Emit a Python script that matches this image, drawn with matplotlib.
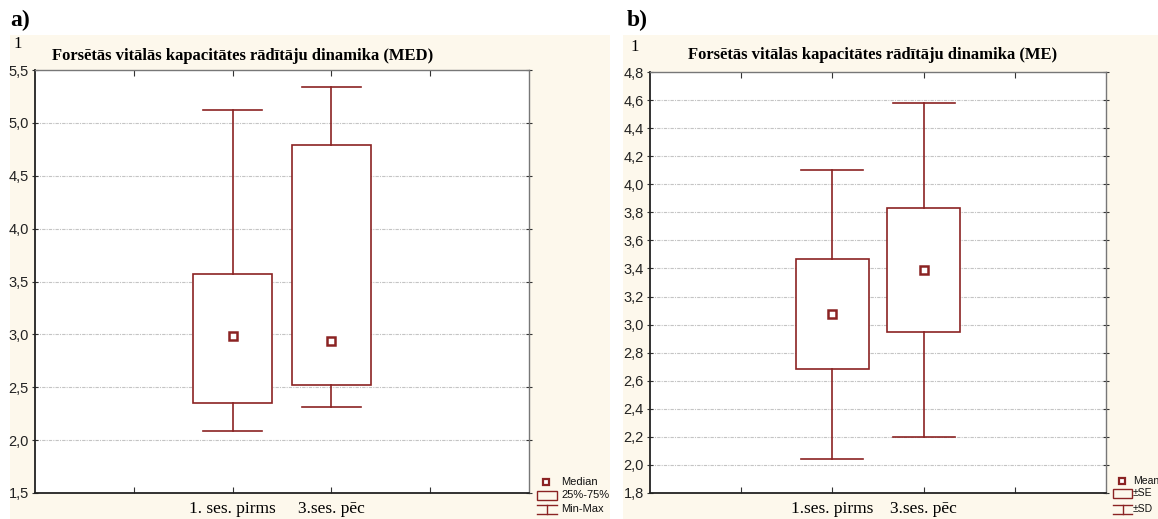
import matplotlib.pyplot as plt
from matplotlib.patches import Rectangle
from matplotlib.lines import Line2D

W, H = 1158, 519  # размер картинки в пикселях
DPI = 100

# Данные: группы и значения
groups_a = ['1. ses. pirms', '3.ses. pēc']
groups_b = ['1.ses. pirms', '3.ses. pēc']
positions = [2, 3]

# a) медиана, квартили, мин-макс
med_a = [2.98, 2.94]
q1_a = [2.35, 2.52]
q3_a = [3.57, 4.79]
min_a = [2.09, 2.31]
max_a = [5.12, 5.34]

# b) среднее, SE, SD
mean_b = [3.075, 3.39]
se_b = [0.39, 0.44]
sd_b = [1.03, 1.19]

yticks_a = [1.5, 2.0, 2.5, 3.0, 3.5, 4.0, 4.5, 5.0, 5.5]
yticks_b = [1.8, 2.0, 2.2, 2.4, 2.6, 2.8, 3.0, 3.2, 3.4, 3.6, 3.8, 4.0, 4.2, 4.4, 4.6, 4.8]

DARKRED = '#8b2323'
CREAM = '#fdf8ec'
SERIF = 'Liberation Serif'
SANS = ['Liberation Sans Narrow', 'Liberation Sans', 'DejaVu Sans']


def px(x, y):
    # пиксели -> координаты фигуры
    return x / W, 1 - y / H


def box_rect(l, t, r, b):
    return [l / W, 1 - b / H, (r - l) / W, (b - t) / H]


fig = plt.figure(figsize=(W / DPI, H / DPI), dpi=DPI)
fig.patch.set_facecolor('white')

# Кремовый фон панелей
for (l, t, r, b) in [(10, 35, 610, 519), (623, 35, 1158, 519)]:
    fig.add_artist(Rectangle(px(l, b), (r - l) / W, (b - t) / H,
                             transform=fig.transFigure, facecolor=CREAM,
                             edgecolor='none', zorder=-10))


def draw_box(ax, x, lo, hi, center, wlo, whi, bw, cw):
    ax.add_patch(Rectangle((x - bw / 2, lo), bw, hi - lo, facecolor='white',
                           edgecolor=DARKRED, lw=1.2, zorder=3))
    ax.plot([x, x], [hi, whi], color=DARKRED, lw=1.2, zorder=3)
    ax.plot([x, x], [lo, wlo], color=DARKRED, lw=1.2, zorder=3)
    ax.plot([x - cw / 2, x + cw / 2], [whi, whi], color=DARKRED, lw=1.2, zorder=3)
    ax.plot([x - cw / 2, x + cw / 2], [wlo, wlo], color=DARKRED, lw=1.2, zorder=3)
    ax.plot([x], [center], marker='s', ms=5.5, mfc='white', mec=DARKRED,
            mew=1.8, zorder=4)


def setup_axes(ax, yticks, labels, ylim):
    ax.set_xlim(0, 5)
    ax.set_ylim(*ylim)
    ax.set_yticks(yticks)
    ax.set_yticklabels([('%.1f' % v).replace('.', ',') for v in yticks],
                       family=SANS, fontsize=10.5, color='#222222')
    ax.set_xticks([1, 2, 3, 4])
    ax.set_xticklabels(['', labels[0], labels[1], ''], family=SERIF,
                       fontsize=12.5)
    ax.tick_params(axis='x', direction='in', length=4, top=True, pad=6,
                   color='#333333')
    ax.tick_params(axis='y', direction='inout', length=5, right=True,
                   color='#333333', pad=2)
    for v in yticks[1:-1]:
        ax.axhline(v, color='#c4c4c4', lw=0.8, ls=(0, (3, 1, 1, 1)), zorder=1)
    for s in ['left', 'bottom']:
        ax.spines[s].set_color('#222222')
        ax.spines[s].set_linewidth(1.3)
    for s in ['top', 'right']:
        ax.spines[s].set_color('#777777')
        ax.spines[s].set_linewidth(1.0)


# ---------- a) ----------
ax1 = fig.add_axes(box_rect(35, 70, 529, 493))
setup_axes(ax1, yticks_a, groups_a, (1.5, 5.5))
for i, x in enumerate(positions):
    draw_box(ax1, x, q1_a[i], q3_a[i], med_a[i], min_a[i], max_a[i], 0.8, 0.6)

# ---------- b) ----------
ax2 = fig.add_axes(box_rect(650, 72, 1106, 493))
setup_axes(ax2, yticks_b, groups_b, (1.8, 4.8))
for i, x in enumerate(positions):
    m = mean_b[i]
    draw_box(ax2, x, m - se_b[i], m + se_b[i], m, m - sd_b[i], m + sd_b[i],
             0.8, 0.68)

# Заголовки и подписи
fig.text(*px(52, 56), 'Forsētās vitālās kapacitātes rādītāju dinamika (MED)',
         family=SERIF, fontweight='bold', fontsize=12, va='center', ha='left')
fig.text(*px(688, 55), 'Forsētās vitālās kapacitātes rādītāju dinamika (ME)',
         family=SERIF, fontweight='bold', fontsize=12, va='center', ha='left')
fig.text(*px(10, 20), 'a)', family=SERIF, fontweight='bold', fontsize=17,
         va='center', ha='left')
fig.text(*px(627, 20), 'b)', family=SERIF, fontweight='bold', fontsize=17,
         va='center', ha='left')
fig.text(*px(13, 44), '1', family=SERIF, fontsize=12, va='center', ha='left')
fig.text(*px(630, 47), '1', family=SERIF, fontsize=12, va='center', ha='left')


# Легенды
def legend(x0, x1, mx, tx, ys, names, fs):
    y_m, (bt, bb), (wt, wb) = ys
    fig.add_artist(Line2D([px(mx, 0)[0]], [px(0, y_m)[1]], marker='s', ms=4.5,
                          mfc='white', mec=DARKRED, mew=1.6,
                          transform=fig.transFigure))
    fig.add_artist(Rectangle(px(x0, bb), (x1 - x0) / W, (bb - bt) / H,
                             transform=fig.transFigure, facecolor='none',
                             edgecolor=DARKRED, lw=1.0))
    xm = (x0 + x1) / 2
    for (a, b) in [((x0, wt), (x1, wt)), ((x0, wb), (x1, wb)), ((xm, wt), (xm, wb))]:
        fig.add_artist(Line2D([px(*a)[0], px(*b)[0]], [px(*a)[1], px(*b)[1]],
                              color=DARKRED, lw=1.0, transform=fig.transFigure))
    for name, y in zip(names, [y_m, (bt + bb) / 2, (wt + wb) / 2]):
        fig.text(*px(tx, y), name, family=SANS, fontsize=fs, va='center',
                 ha='left', color='#111111')


legend(537, 557, 546, 561, (482, (491, 500), (505, 514)),
       ['Median', '25%-75%', 'Min-Max'], 8)
legend(1113, 1132, 1122, 1133, (481, (489, 498), (505, 514)),
       ['Mean', '±SE', '±SD'], 7.5)

plt.savefig('out.png', dpi=DPI)
